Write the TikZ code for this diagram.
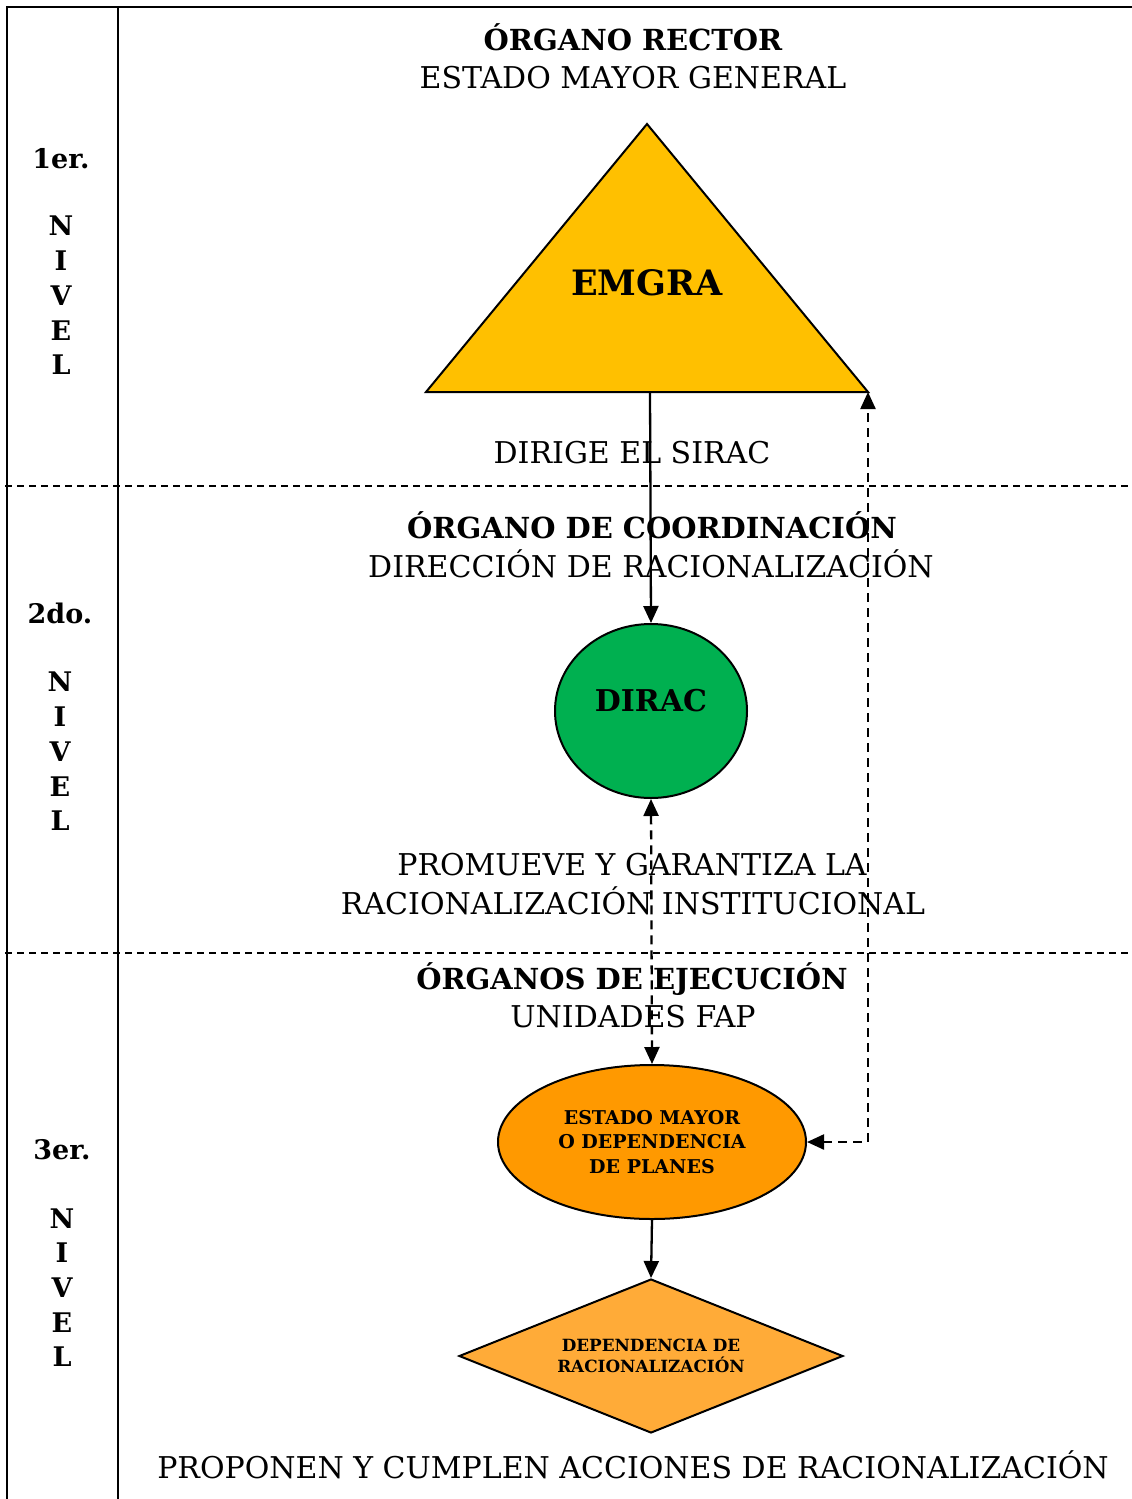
\documentclass[tikz,border=0pt]{standalone}
\usepackage{fontspec}
\setmainfont{DejaVu Serif}
\usetikzlibrary{arrows.meta,shapes.geometric}
\definecolor{trifill}{HTML}{FFC000}
\definecolor{circfill}{HTML}{00B050}
\definecolor{ellfill}{HTML}{FF9900}
\definecolor{diafill}{HTML}{FFAB38}
\begin{document}
\begin{tikzpicture}[x=1pt,y=-1pt,
  frame/.style={line width=2.4pt},
  sepline/.style={line width=1.4pt, dash pattern=on 7pt off 5pt},
  link/.style={line width=2.3pt, -{Triangle[length=17pt,width=15pt]}},
  dlink/.style={line width=2.3pt, dash pattern=on 9pt off 6pt, {Triangle[length=17pt,width=15pt]}-{Triangle[length=17pt,width=15pt]}},
  reg/.style={font=\fontsize{30}{36}\selectfont, anchor=base, inner sep=0pt},
  bld/.style={font=\fontsize{29}{36}\selectfont\bfseries, anchor=base, inner sep=0pt},
  lvl/.style={font=\fontsize{27}{32}\selectfont\bfseries, anchor=base, inner sep=0pt},
  shapeline/.style={draw=black, line width=2pt}
]
\useasboundingbox (0,0) rectangle (1132,1499);

% frame
\draw[frame] (7,1499) -- (7,7) -- (1132,7);
\draw[frame] (118,7) -- (118,1499);
\draw[sepline] (5,486) -- (1132,486);
\draw[sepline] (5,953) -- (1132,953);

% level labels
\node[lvl] (n1) at (61,168) {1er.};
\foreach \l/\yy [count=\i] in {N/235,I/270,V/305,E/340,L/374}
  \node[lvl] (n1-\i) at (61,\yy) {\l};
\node[lvl] (n2) at (60,623) {2do.};
\foreach \l/\yy [count=\i] in {N/691,I/726,V/761,E/796,L/830}
  \node[lvl] (n2-\i) at (60,\yy) {\l};
\node[lvl] (n3) at (62,1159) {3er.};
\foreach \l/\yy [count=\i] in {N/1228,I/1262,V/1297,E/1332,L/1366}
  \node[lvl] (n3-\i) at (62,\yy) {\l};

% titles
\node[bld] (t1a) at (633,50) {ÓRGANO RECTOR};
\node[reg] (t1b) at (633,88) {ESTADO MAYOR GENERAL};
\node[reg] (d1) at (632,463) {DIRIGE EL SIRAC};
\node[bld] (t2a) at (652,538) {ÓRGANO DE COORDINACIÓN};
\node[reg] (t2b) at (651,577) {DIRECCIÓN DE RACIONALIZACIÓN};
\node[reg] (d2a) at (632,875) {PROMUEVE Y GARANTIZA LA};
\node[reg] (d2b) at (633,914) {RACIONALIZACIÓN INSTITUCIONAL};
\node[bld] (t3a) at (632,989) {ÓRGANOS DE EJECUCIÓN};
\node[reg] (t3b) at (633,1027) {UNIDADES FAP};
\node[reg] (d3) at (633,1478) {PROPONEN Y CUMPLEN ACCIONES DE RACIONALIZACIÓN};

% triangle
\coordinate (triA) at (647,124);
\coordinate (triL) at (426,392);
\coordinate (triR) at (868,392);
\filldraw[shapeline, fill=trifill] (triA) -- (triL) -- (triR) -- cycle;
\node[font=\fontsize{35}{38}\selectfont\bfseries, anchor=base, inner sep=0pt] (emgra) at (647,295) {EMGRA};
\coordinate (triB) at (650,392);

% DIRAC circle
\node[ellipse, shapeline, fill=circfill, minimum width=192pt, minimum height=174pt, inner sep=0pt] (dirac) at (651,711) {};
\node[font=\fontsize{30}{32}\selectfont\bfseries, anchor=base, inner sep=0pt] (diract) at (651,711) {DIRAC};

% ellipse
\node[ellipse, shapeline, fill=ellfill, minimum width=308pt, minimum height=154pt, inner sep=0pt,
      font=\fontsize{19}{24.5}\selectfont\bfseries, align=center] (ems) at (652,1142)
      {ESTADO MAYOR\\O DEPENDENCIA\\DE PLANES};

% diamond
\node[diamond, aspect=2.5, shapeline, fill=diafill, minimum width=384pt, minimum height=154pt, inner sep=0pt,
      font=\fontsize{16.8}{20.5}\selectfont\bfseries, align=center] (dia) at (651,1356)
      {DEPENDENCIA DE\\RACIONALIZACIÓN};

% connectors
\draw[link] (triB) -- (dirac.north);
\draw[dlink] (dirac.south) -- (ems.north);
\draw[link] (ems.south) -- (dia.north);
\draw[dlink] (ems.east) -| (triR);
\end{tikzpicture}
\end{document}
